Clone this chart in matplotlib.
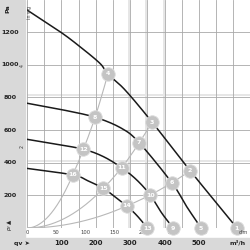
import numpy as np
import matplotlib
matplotlib.use("Agg")
import matplotlib.pyplot as plt
from matplotlib.patches import Rectangle
from matplotlib.transforms import blended_transform_factory

# fan curves (m3/h, Pa), four speeds
q1 = [0, 96, 154, 212, 235, 285, 364, 474, 610]
p1 = [1335, 1202, 1110, 1008, 943, 845, 647, 351, 0]
q2 = [0, 100, 198, 275, 326, 421, 464, 506]
p2 = [764, 725, 678, 610, 522, 277, 131, 0]
q3 = [0, 80, 164, 222, 275, 319, 358, 392, 425]
p3 = [543, 515, 482, 437, 369, 294, 202, 90, 0]
q4 = [0, 133, 178, 222, 261, 290, 319, 350]
p4 = [365, 325, 288, 243, 182, 135, 77, 0]

# operating points 1..16
pt_q = [610, 474, 364, 235, 506, 421, 326, 198, 425, 358, 275, 164, 350, 290, 222, 133]
pt_p = [0, 351, 647, 943, 0, 277, 522, 678, 0, 202, 369, 482, 0, 135, 243, 325]
pt_lbl = [str(i) for i in range(1, 17)]

# system curves connect these points (indices)
systems = [[15, 11, 7, 3], [14, 10, 6, 2], [13, 9, 5, 1]]

y_ticks = [200, 400, 600, 800, 1000, 1200]
x_ticks = [100, 200, 300, 400, 500]
cfm_ticks = [0, 50, 100, 150, 200, 250, 300]
inwg_ticks = [2, 4]


def smooth(x, y, n=20):
    # catmull-rom through the read points
    x = np.asarray(x, float)
    y = np.asarray(y, float)
    P = np.column_stack([x, y])
    P = np.vstack([2 * P[0] - P[1], P, 2 * P[-1] - P[-2]])
    out = []
    t = np.linspace(0, 1, n, endpoint=False)[:, None]
    for i in range(1, len(P) - 2):
        p0, p1_, p2_, p3_ = P[i - 1], P[i], P[i + 1], P[i + 2]
        seg = 0.5 * ((2 * p1_) + (-p0 + p2_) * t + (2 * p0 - 5 * p1_ + 4 * p2_ - p3_) * t ** 2
                     + (-p0 + 3 * p1_ - 3 * p2_ + p3_) * t ** 3)
        out.append(seg)
    out.append(P[-2][None, :])
    out = np.vstack(out)
    return out[:, 0], out[:, 1]


W = 250.0
fig = plt.figure(figsize=(2.5, 2.5), dpi=100)
band = '#d9d9d9'
fig.patches.append(Rectangle((0, 0), 25 / W, 1, transform=fig.transFigure, color=band, zorder=-5))
fig.patches.append(Rectangle((0, 0), 1, 12 / W, transform=fig.transFigure, color=band, zorder=-5))

ax = fig.add_axes([27 / W, 22 / W, 223 / W, 228 / W])
ax.set_xlim(0, 648)
ax.set_ylim(0, 1396)
for s in ax.spines.values():
    s.set_visible(False)
ax.set_xticks([])
ax.set_yticks([])

# grid
for q in [300, 350, 400]:
    ax.axvline(q - 3, color='#e6e6e6', lw=1.4, zorder=0)
for p in [400, 800]:
    ax.axhline(p + 12, color='#e6e6e6', lw=1.4, zorder=0)
for q in np.arange(0, 650, 50):
    ax.axvline(q, color='#a8a8a8', lw=0.6, zorder=1)
for p in [0] + y_ticks:
    ax.axhline(p, color='#a8a8a8', lw=0.6, zorder=1)

# system curves
for idx in systems:
    qp = np.array([pt_q[i] for i in idx], float)
    pp = np.array([pt_p[i] for i in idx], float)
    k = pp / qp ** 2
    qs = np.linspace(0, qp[-1], 200)
    ks = np.interp(qs, qp, k)
    ax.plot(qs, ks * qs ** 2, color='#b8b8b8', lw=0.8, zorder=2)

for q, p in [(q1, p1), (q2, p2), (q3, p3), (q4, p4)]:
    sx, sy = smooth(q, p)
    ax.plot(sx, sy, color='#1a1a1a', lw=1.1, zorder=3)

ax.scatter(pt_q, pt_p, s=95, color='#c4c4c4', edgecolors='#dddddd', linewidths=0.6, zorder=4, clip_on=False)
for q, p, t in zip(pt_q, pt_p, pt_lbl):
    ax.text(q, p, t, color='white', fontsize=4.5, fontweight='bold', ha='center', va='center', zorder=5)

# y labels (Pa)
ytr = blended_transform_factory(fig.transFigure, ax.transData)
for p in y_ticks:
    ax.text(10.5 / W, p, str(p), transform=ytr, fontsize=4.6, fontweight='bold', ha='center', va='center', color='#222222')
for w in inwg_ticks:
    ax.text(22.5 / W, w * 249, str(w), transform=ytr, fontsize=3.3, rotation=90, ha='center', va='center', color='#333333')
fig.text(8 / W, 1 - 9 / W, 'Pa', fontsize=4.5, fontweight='bold', rotation=90, ha='center', va='center', color='#222222')
fig.text(30 / W, 1 - 12 / W, 'in wg', fontsize=3.5, rotation=90, ha='center', va='center', color='#444444')
fig.text(10 / W, 1 - 224 / W, r'$p_f$ ▲', fontsize=4, fontweight='bold', rotation=90, ha='center', va='center', color='#222222')

# x labels
xtr = blended_transform_factory(ax.transData, fig.transFigure)
for q in x_ticks:
    ax.text(q, 1 - 243 / W, str(q), transform=xtr, fontsize=5, fontweight='bold', ha='center', va='center', color='#222222')
fig.text(238 / W, 1 - 243 / W, 'm³/h', fontsize=4.5, fontweight='bold', ha='center', va='center', color='#222222')
fig.text(22 / W, 1 - 243 / W, 'qv ➤', fontsize=4.5, fontweight='bold', ha='center', va='center', color='#222222')
for c in cfm_ticks:
    ax.text(c * 1.699, 1 - 233 / W, str(c), transform=xtr, fontsize=3.8, ha='center', va='center', color='#444444')
fig.text(243 / W, 1 - 233 / W, 'cfm', fontsize=3.5, ha='center', va='center', color='#444444')

fig.savefig('out.png', dpi=100)
